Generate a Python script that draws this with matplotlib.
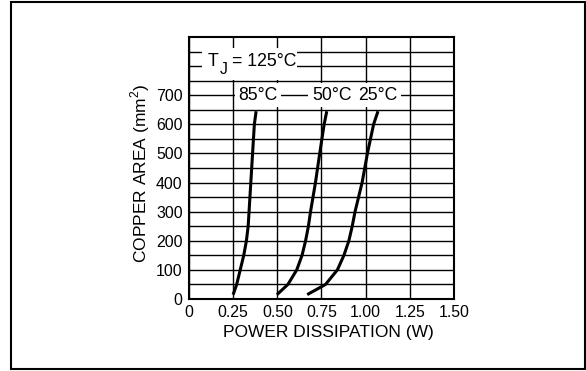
import numpy as np
import matplotlib
matplotlib.use("Agg")
import matplotlib.pyplot as plt
from matplotlib.patches import Rectangle
from matplotlib.transforms import offset_copy

plt.rcParams['font.family'] = ['Liberation Sans', 'DejaVu Sans']

# ------------------------------------------------------------
# Data: power (W) vs copper area (mm^2)
# ------------------------------------------------------------
area = [15, 50, 100, 150, 200, 250, 300, 400, 500, 600, 645]

power_85 = [0.250, 0.270, 0.290, 0.310, 0.325, 0.335, 0.340, 0.350, 0.360, 0.370, 0.380]
power_50 = [0.498, 0.560, 0.610, 0.640, 0.660, 0.676, 0.688, 0.716, 0.740, 0.765, 0.780]
power_25 = [0.669, 0.773, 0.840, 0.877, 0.905, 0.924, 0.940, 0.980, 1.010, 1.045, 1.070]

curve_labels = ['85°C', '50°C', '25°C']
label_x = [0.392, 0.807, 1.071]
label_y = 700

x_ticks = [0, 0.25, 0.50, 0.75, 1.00, 1.25, 1.50]
x_tick_labels = ['0', '0.25', '0.50', '0.75', '1.00', '1.25', '1.50']
y_ticks = [0, 100, 200, 300, 400, 500, 600, 700]

FS = 12.5      # labels
TICK_FS = 11.4 # tick numbers

# ------------------------------------------------------------
# Figure
# ------------------------------------------------------------
fig = plt.figure(figsize=(5.86, 3.71), dpi=100)
ax = fig.add_axes([0.3225, 0.1941, 0.4522, 0.7062])

# outer frame around the whole figure
fig.patches.append(Rectangle((11 / 586, 1 - 369 / 371), 574 / 586, 367 / 371,
                             transform=fig.transFigure, fill=False,
                             edgecolor='black', linewidth=1.5))

for p in [power_85, power_50, power_25]:
    ax.plot(p, area, color='black', linewidth=2.2, solid_capstyle='butt', zorder=3)

ax.set_xlim(0, 1.5)
ax.set_ylim(0, 900)
ax.set_xticks(x_ticks)
ax.set_xticklabels(x_tick_labels)
ax.set_yticks(y_ticks)
ax.set_yticks(np.arange(50, 900, 50), minor=True)
ax.tick_params(which='both', length=0, labelsize=TICK_FS, pad=4.5)
ax.grid(True, which='both', color='black', linewidth=1.0)
ax.set_axisbelow(True)
for s in ax.spines.values():
    s.set_linewidth(1.5)

ax.set_xlabel('POWER DISSIPATION (W)', fontsize=FS)
ax.xaxis.set_label_coords(0.525, -0.1)
ax.set_ylabel('COPPER AREA (mm$^\\mathregular{2}$)', fontsize=FS)
ax.yaxis.set_label_coords(-0.14, 0.48)

# curve labels
box = dict(boxstyle='square,pad=0.2', facecolor='white', edgecolor='none')
for lbl, lx in zip(curve_labels, label_x):
    ax.text(lx, label_y, lbl, fontsize=12.7, ha='center', va='center', bbox=box, zorder=4)

# junction temperature label: white patch, then T, J (dropped) and the rest
ax.add_patch(Rectangle((0.074, 752), 0.54, 110, facecolor='white',
                       edgecolor='none', zorder=4))
ax.text(0.108, 800, 'T', fontsize=12.7, ha='left', va='baseline', zorder=5)
ax.text(0.108, 800, 'J', fontsize=11.4, ha='left', va='baseline', zorder=5,
        transform=offset_copy(ax.transData, fig=fig, x=8.2, y=-5.6, units='points'))
ax.text(0.108, 800, '= 125°C', fontsize=12.7, ha='left', va='baseline', zorder=5,
        transform=offset_copy(ax.transData, fig=fig, x=17.0, y=0, units='points'))

plt.savefig('out.png', dpi=100)
